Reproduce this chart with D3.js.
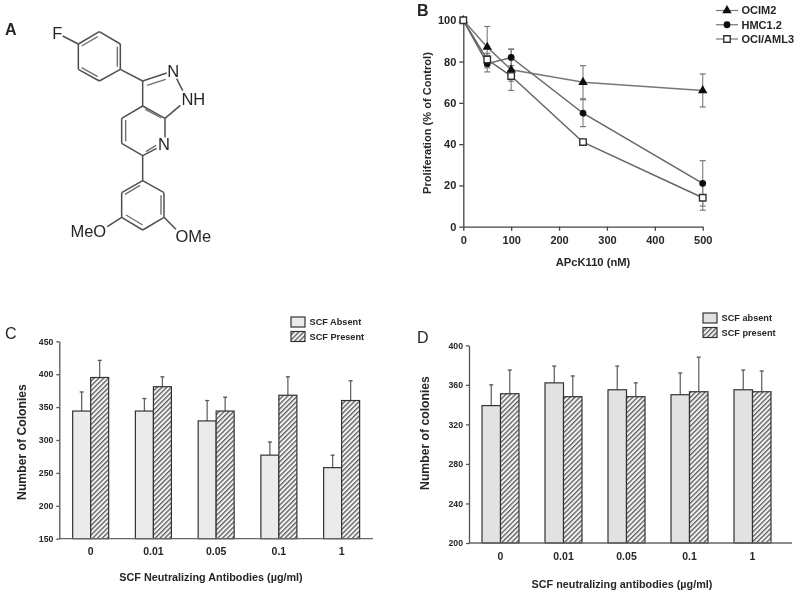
<!DOCTYPE html>
<html><head><meta charset="utf-8">
<script src="https://cdn.jsdelivr.net/npm/d3@7"></script>
<style>
html,body{margin:0;padding:0;background:#fff}
svg{display:block}
text{font-family:"Liberation Sans",Arial,sans-serif;fill:#262626}
.b{font-weight:bold}
</style></head><body>
<script>
// Panel B data
const doses=[0,50,100,250,500];
const bSeries=["OCIM2","HMC1.2","OCI/AML3"];
const ocim2=[100,87,76,70,66];
const ocim2Err=[0,10,10,8,8];
const hmc=[100,79,82,55,21];
const hmcErr=[0,4,4,6.5,11];
const oci=[100,81,73,41,14];
const ociErr=[0,3,2.5,1.5,6];
const bYTicks=[0,20,40,60,80,100];
const bXTicks=[0,100,200,300,400,500];
// Panels C and D data
const concs=["0","0.01","0.05","0.1","1"];
const cAbsent=[344,344,329,277,258];
const cAbsentTop=[373,363,360,297,277];
const cPresent=[395,381,344,368,360];
const cPresentTop=[421,396,365,396,390];
const dAbsent=[339,362,355,350,355];
const dAbsentTop=[360,379,379,372,375];
const dPresent=[351,348,348,353,353];
const dPresentTop=[375,369,362,388,374];
const cYTicks=[150,200,250,300,350,400,450];
const dYTicks=[200,240,280,320,360,400];
// Panel A structure (atom positions in drawing units, 3 per pixel)
const atoms={f:[188,108],a1:[235,132],a2:[298,95],a3:[361,132],a4:[361,208],a5:[298,243],a6:[235,208],
 c3:[428,243],n2:[500,219],n2b:[530,236],n1:[548,272],nh:[541,316],c3a:[428,318],c7a:[495,355],c4:[365,355],c5:[365,430],c6:[428,467],n7:[495,412],n7b:[470,445],
 p1:[428,542],p2:[365,578],p3:[365,652],p4:[428,690],p5:[492,652],p6:[492,578],o1:[322,680],o2:[528,688]};
const singleBonds=[["f","a1"],["a1","a2"],["a2","a3"],["a3","a4"],["a4","a5"],["a5","a6"],["a6","a1"],["a4","c3"],["c3","n2"],["n2b","n1"],["nh","c7a"],["c3","c3a"],["c3a","c7a"],["c3a","c4"],["c4","c5"],["c5","c6"],["c6","n7b"],["c7a","n7"],["c6","p1"],["p1","p2"],["p2","p3"],["p3","p4"],["p4","p5"],["p5","p6"],["p6","p1"],["p3","o1"],["p5","o2"]];
const innerBonds=[[[245,138],[293,110]],[[352,140],[352,200]],[[293,230],[245,203]],[[441,256],[497,238]],[[436,328],[484,354]],[[377,360],[377,424]],[[438,455],[468,436]],[[420,556],[375,583]],[[483,586],[483,644]],[[378,645],[428,675]]];
const atomLabels=[["F",172,98,"middle"],["N",520,213,"middle"],["NH",580,298,"middle"],["N",492,432,"middle"],["MeO",265,692,"middle"],["OMe",580,708,"middle"]];

const svg=d3.select("body").append("svg").attr("width",800).attr("height",595);
const defs=svg.append("defs");
const pat=defs.append("pattern").attr("id","hatch").attr("width",3.4).attr("height",3.4)
 .attr("patternUnits","userSpaceOnUse").attr("patternTransform","rotate(45)");
pat.append("rect").attr("width",3.4).attr("height",3.4).attr("fill","#f4f4f4");
pat.append("rect").attr("width",1.3).attr("height",3.4).attr("fill","#5a5a5a");
defs.append("filter").attr("id","soft").append("feGaussianBlur").attr("stdDeviation",0.4);

const root=svg.append("g").attr("filter","url(#soft)");
const letter=(t,x,y,bold)=>root.append("text").attr("x",x).attr("y",y).attr("font-size",16)
  .attr("font-weight",bold?"bold":"normal").text(t);
letter("A",5,35,true);letter("B",417,16,true);letter("C",5,339,false);letter("D",417,343,false);

// Panel A
const ax=d3.scaleLinear().domain([0,3]).range([0,1]),ay=d3.scaleLinear().domain([0,3]).range([0,1]);
const mol=root.append("g").attr("stroke","#505050").attr("stroke-width",1.5).attr("fill","none");
mol.selectAll("line.s").data(singleBonds).join("line")
 .attr("x1",d=>ax(atoms[d[0]][0])).attr("y1",d=>ay(atoms[d[0]][1]))
 .attr("x2",d=>ax(atoms[d[1]][0])).attr("y2",d=>ay(atoms[d[1]][1]));
const molInner=root.append("g").attr("stroke","#707070").attr("stroke-width",1.4).attr("fill","none");
molInner.selectAll("line").data(innerBonds).join("line")
 .attr("x1",d=>ax(d[0][0])).attr("y1",d=>ay(d[0][1])).attr("x2",d=>ax(d[1][0])).attr("y2",d=>ay(d[1][1]));
root.selectAll("text.atom").data(atomLabels).join("text").attr("class","atom")
 .attr("x",d=>ax(d[1])).attr("y",d=>ay(d[2])).attr("text-anchor",d=>d[3]).attr("dy","0.36em")
 .attr("font-size",16.5).text(d=>d[0]);

function styleAxis(g,color,size,bold){
 g.selectAll("path,line").attr("stroke",color).attr("stroke-width",1.3);
 g.selectAll("text").attr("font-size",size).attr("font-weight",bold?"bold":"normal").attr("fill","#1e1e1e")
  .style("font-family",'"Liberation Sans",Arial,sans-serif');
}

// Panel B
const bx=d3.scaleLinear().domain([0,500]).range([463.3,702.7]);
const by=d3.scaleLinear().domain([0,100]).range([226.7,20.3]);
const pb=root.append("g");
pb.append("g").attr("transform","translate(0,226.7)")
 .call(d3.axisBottom(bx).tickValues(bXTicks).tickSize(4).tickSizeOuter(0).tickPadding(6)).call(styleAxis,"#444",11,true);
pb.append("g").attr("transform","translate(463.3,0)")
 .call(d3.axisLeft(by).tickValues(bYTicks).tickSize(4).tickSizeOuter(0).tickPadding(3)).call(styleAxis,"#444",11,true);
pb.append("text").attr("class","b").attr("x",593).attr("y",266).attr("text-anchor","middle").attr("font-size",11.2).text("APcK110 (nM)");
pb.append("text").attr("class","b").attr("transform","translate(431,123) rotate(-90)").attr("text-anchor","middle").attr("font-size",11.1).text("Proliferation (% of Control)");
const bData=[{v:ocim2,e:ocim2Err,m:"tri",stroke:"#777"},{v:hmc,e:hmcErr,m:"dot",stroke:"#666"},{v:oci,e:ociErr,m:"sq",stroke:"#666"}];
const lineGen=d3.line().x((d,i)=>bx(doses[i])).y(d=>by(d));
function marker(sel,kind){
 if(kind==="sq") sel.append("path").attr("d",d3.symbol(d3.symbolSquare,42)).attr("fill","#fff").attr("stroke","#333").attr("stroke-width",1.4);
 else sel.append("path").attr("d",d3.symbol(kind==="tri"?d3.symbolTriangle:d3.symbolCircle,kind==="tri"?38:36)).attr("fill","#0c0c0c");
}
bData.forEach(s=>{
 const g=pb.append("g");
 s.v.forEach((v,i)=>{ if(!s.e[i])return;
  const x=bx(doses[i]);
  g.append("line").attr("x1",x).attr("x2",x).attr("y1",by(v+s.e[i])).attr("y2",by(v-s.e[i])).attr("stroke","#888").attr("stroke-width",1.2);
  [v+s.e[i],v-s.e[i]].forEach(w=>g.append("line").attr("x1",x-3).attr("x2",x+3).attr("y1",by(w)).attr("y2",by(w)).attr("stroke","#777").attr("stroke-width",1.2));
 });
 g.append("path").attr("d",lineGen(s.v)).attr("fill","none").attr("stroke",s.stroke).attr("stroke-width",1.5);
});
bData.forEach(s=>{
 pb.append("g").selectAll("g").data(s.v).join("g")
  .attr("transform",(d,i)=>`translate(${bx(doses[i])},${by(d)})`).each(function(){marker(d3.select(this),s.m)});
});
const bLegY=d3.scalePoint().domain(bSeries).range([10.5,39]);
bSeries.forEach((n,i)=>{
 const y=bLegY(n);
 pb.append("line").attr("x1",716).attr("x2",738).attr("y1",y).attr("y2",y).attr("stroke","#777").attr("stroke-width",1.2);
 const m=pb.append("g").attr("transform",`translate(727,${y})`);marker(m,bData[i].m);
 pb.append("text").attr("class","b").attr("x",741.5).attr("y",y).attr("dy","0.36em").attr("font-size",11).text(n);
});

// Bar panels
function barPanel(o){
 const g=root.append("g");
 const x=d3.scaleBand().domain(concs).range(o.xr);
 const y=d3.scaleLinear().domain(o.yd).range(o.yr);
 const base=o.yr[0];
 const draw=(vals,tops,off,fill)=>{
  g.append("g").selectAll("line").data(vals).join("line")
   .attr("x1",(d,i)=>x(concs[i])+x.bandwidth()/2+off+o.bw/2).attr("x2",(d,i)=>x(concs[i])+x.bandwidth()/2+off+o.bw/2)
   .attr("y1",d=>y(d)).attr("y2",(d,i)=>y(tops[i])).attr("stroke","#666").attr("stroke-width",1.3);
  g.append("g").selectAll("line").data(tops).join("line")
   .attr("x1",(d,i)=>x(concs[i])+x.bandwidth()/2+off+o.bw/2-2).attr("x2",(d,i)=>x(concs[i])+x.bandwidth()/2+off+o.bw/2+2)
   .attr("y1",d=>y(d)).attr("y2",d=>y(d)).attr("stroke","#555").attr("stroke-width",1.3);
  g.append("g").selectAll("rect").data(vals).join("rect")
   .attr("x",(d,i)=>x(concs[i])+x.bandwidth()/2+off).attr("width",o.bw)
   .attr("y",d=>y(d)).attr("height",d=>base-y(d)).attr("fill",fill).attr("stroke","#333").attr("stroke-width",1.2);
 };
 draw(o.a,o.at,-o.bw,o.fill);
 draw(o.p,o.pt,0,"url(#hatch)");
 const xa=g.append("g").attr("transform",`translate(0,${base})`)
  .call(d3.axisBottom(x).tickSize(0).tickPadding(o.xpad)).call(styleAxis,"#666",10.5,true);
 xa.select(".domain").remove();
 g.append("line").attr("x1",o.xr[0]).attr("x2",o.axisEnd).attr("y1",base).attr("y2",base).attr("stroke","#666").attr("stroke-width",1.3);
 g.append("g").attr("transform",`translate(${o.xr[0]},0)`)
  .call(d3.axisLeft(y).tickValues(o.yt).tickSize(3).tickSizeOuter(0).tickPadding(3)).call(styleAxis,"#555",8.7,true);
 g.append("text").attr("class","b").attr("x",o.xl[0]).attr("y",o.xl[1]).attr("text-anchor","middle").attr("font-size",10.8).text(o.xt);
 g.append("text").attr("class","b").attr("transform",`translate(${o.yl[0]},${o.yl[1]}) rotate(-90)`).attr("text-anchor","middle").attr("font-size",12.2).text(o.ytitle);
 o.leg.forEach((n,i)=>{
  const [lx,ly]=o.legPos;
  g.append("rect").attr("x",lx).attr("y",ly+i*o.legStep).attr("width",14).attr("height",10)
   .attr("fill",i?"url(#hatch)":o.fill).attr("stroke","#333").attr("stroke-width",1.2);
  g.append("text").attr("class","b").attr("x",lx+18.5).attr("y",ly+i*o.legStep+5).attr("dy","0.36em").attr("font-size",9.2).text(n);
 });
}
barPanel({xr:[59.3,373],axisEnd:373,yd:[150,450],yr:[538.7,341.3],yt:cYTicks,bw:18,xpad:9,fill:"#ebebeb",
 a:cAbsent,at:cAbsentTop,p:cPresent,pt:cPresentTop,xt:"SCF Neutralizing Antibodies (µg/ml)",xl:[211,581],
 ytitle:"Number of Colonies",yl:[26,442],leg:["SCF Absent","SCF Present"],legPos:[291,317],legStep:14.5});
barPanel({xr:[469,784],axisEnd:792,yd:[200,400],yr:[543,345.3],yt:dYTicks,bw:18.5,xpad:10,fill:"#e2e2e2",
 a:dAbsent,at:dAbsentTop,p:dPresent,pt:dPresentTop,xt:"SCF neutralizing antibodies (µg/ml)",xl:[622,588],
 ytitle:"Number of colonies",yl:[429,433],leg:["SCF absent","SCF present"],legPos:[703,313],legStep:14.5});
</script>
</body></html>
